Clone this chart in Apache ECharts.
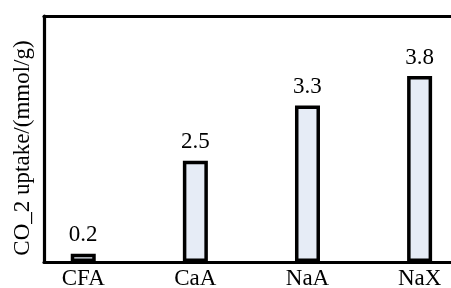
<!DOCTYPE html>
<html>
<head>
<meta charset="utf-8">
<script src="https://cdn.jsdelivr.net/npm/echarts@6/dist/echarts.min.js"></script>
<style>
  html, body { margin: 0; padding: 0; background: #fff; }
  #chart { width: 451px; height: 288px; }
</style>
</head>
<body>
<div id="chart"></div>
<script>
  // 数据
  var categories = ['CFA', 'CaA', 'NaA', 'NaX'];
  // bar heights as drawn in the picture
  var uptake = [0.17, 2.06, 3.18, 3.78];
  // value labels printed above the bars
  var labelText = ['0.2', '2.5', '3.3', '3.8'];

  var font = '"Liberation Serif", "Times New Roman", serif';
  var myChart = echarts.init(document.getElementById('chart'));

  myChart.setOption({
    animation: false,
    grid: { left: 44, right: 0, top: 16, bottom: 26, outerBoundsMode: 'none' },
    xAxis: [
      {
        type: 'value',
        min: -0.35,
        max: 3.28,
        splitLine: { show: false },
        axisLine: { show: true, onZero: false, lineStyle: { color: '#000', width: 3.2 } },
        axisTick: { show: false },
        axisLabel: {
          customValues: [0, 1, 2, 3],
          margin: 5,
          color: '#000',
          fontFamily: font,
          fontSize: 23,
          formatter: function (v) { return categories[Math.round(v)]; }
        }
      },
      {
        type: 'value',
        position: 'top',
        min: -0.35,
        max: 3.28,
        splitLine: { show: false },
        axisLine: { show: true, onZero: false, lineStyle: { color: '#000', width: 3.2 } },
        axisTick: { show: false },
        axisLabel: { show: false }
      }
    ],
    yAxis: {
      type: 'value',
      min: 0,
      max: 5,
      name: 'CO_2 uptake/(mmol/g)',
      nameLocation: 'middle',
      nameGap: 10,
      nameTextStyle: {
        color: '#000',
        fontFamily: font,
        fontSize: 23,
        padding: [0, 18, 0, 0]
      },
      splitLine: { show: false },
      axisLine: { show: true, onZero: false, lineStyle: { color: '#000', width: 3.2 } },
      axisTick: { show: false },
      axisLabel: { show: false }
    },
    series: [{
      type: 'bar',
      xAxisIndex: 0,
      barWidth: 25,
      data: uptake.map(function (v, i) { return [i, v]; }),
      itemStyle: {
        color: '#e6ecf6',
        borderColor: '#000',
        borderWidth: 3.5
      },
      label: {
        show: true,
        position: 'top',
        distance: 7,
        color: '#000',
        fontFamily: font,
        fontSize: 23,
        formatter: function (p) { return labelText[p.dataIndex]; }
      }
    }]
  });
</script>
</body>
</html>
